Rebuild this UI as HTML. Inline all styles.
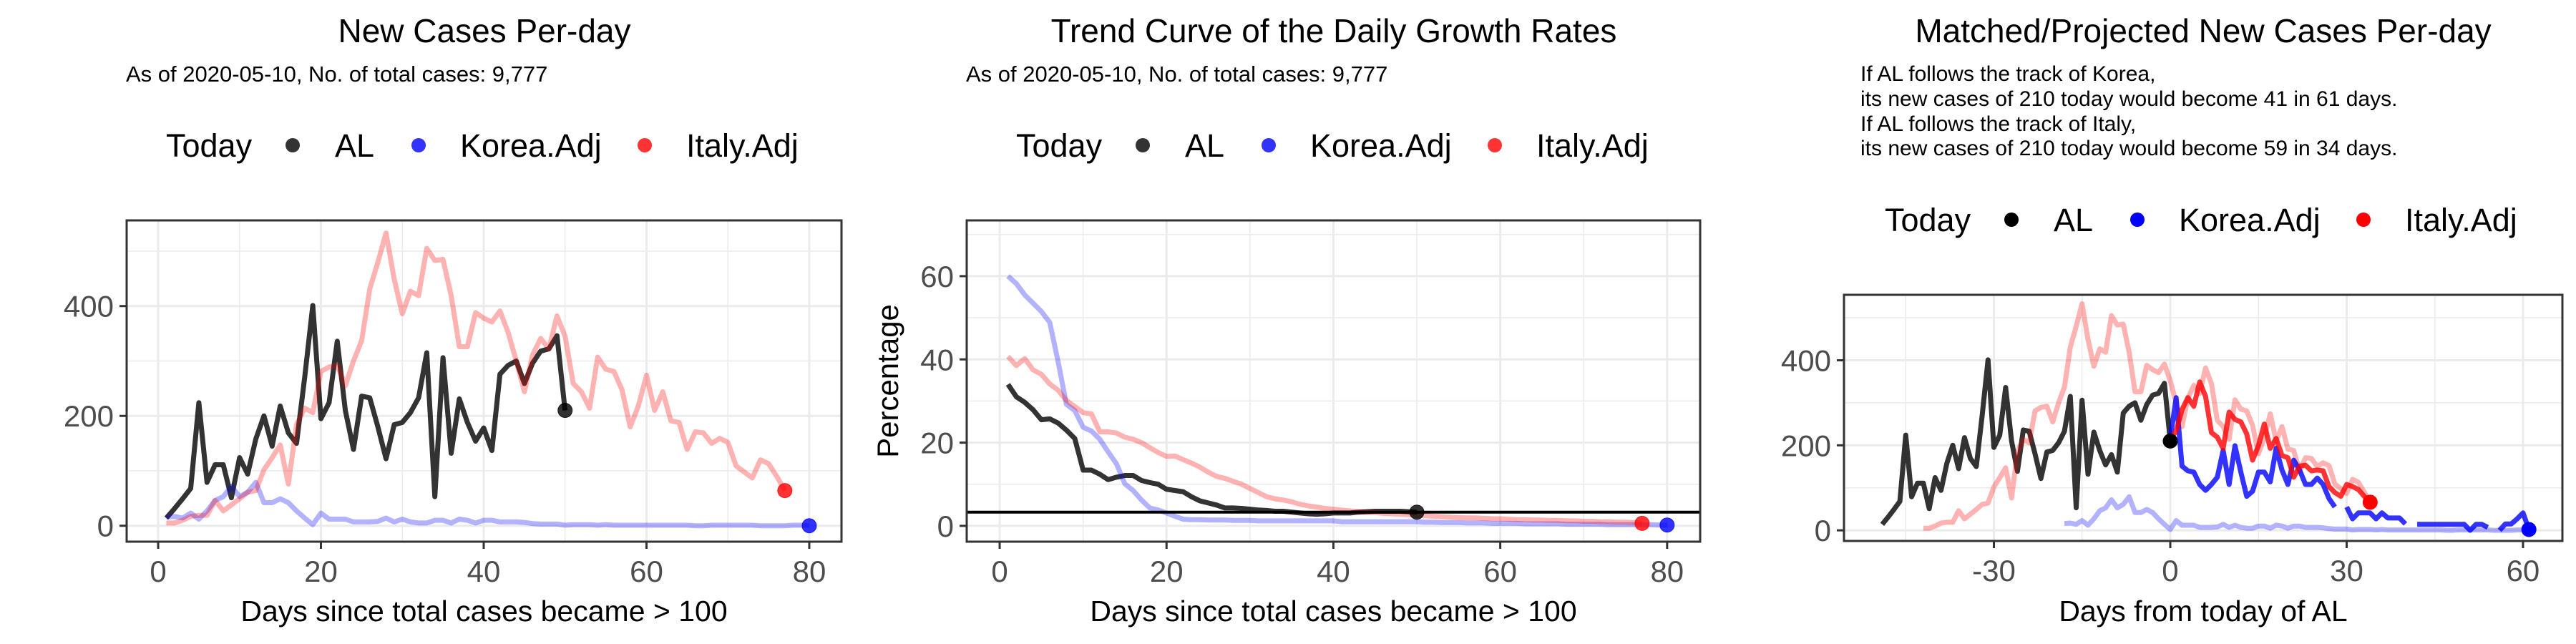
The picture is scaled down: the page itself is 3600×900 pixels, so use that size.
<!DOCTYPE html>
<html><head><meta charset="utf-8">
<style>
html,body{margin:0;padding:0;background:#fff;}
svg{display:block;font-family:"Liberation Sans",sans-serif;}
</style></head>
<body>
<svg id="chart" width="3600" height="900" viewBox="0 0 3600 900" xmlns="http://www.w3.org/2000/svg">
<rect x="0" y="0" width="3600" height="900" fill="#fff"/>
<g>
<text x="677" y="59" font-size="46" text-anchor="middle">New Cases Per-day</text>
<text x="176" y="114" font-size="31">As of 2020-05-10, No. of total cases: 9,777</text>
</g>
<g>
<text x="1864" y="59" font-size="46" text-anchor="middle">Trend Curve of the Daily Growth Rates</text>
<text x="1350" y="114" font-size="31">As of 2020-05-10, No. of total cases: 9,777</text>
</g>
<g>
<text x="3079" y="59" font-size="46" text-anchor="middle">Matched/Projected New Cases Per-day</text>
<text x="2600" y="113" font-size="30">If AL follows the track of Korea,</text>
<text x="2600" y="148" font-size="30">its new cases of 210 today would become 41 in 61 days.</text>
<text x="2600" y="183" font-size="30">If AL follows the track of Italy,</text>
<text x="2600" y="217" font-size="30">its new cases of 210 today would become 59 in 34 days.</text>
</g>
</svg>
<script>
// ---- data ----
const alCases = [14,31,49,68,224,79,111,111,51,124,94,158,200,145,218,169,150,270,401,195,224,336,210,139,236,233,180,122,184,188,206,233,315,53,306,132,231,188,154,178,137,276,292,300,259,296,318,322,346,210];
const koreaCases = [16,17,14,23,12,27,46,53,72,53,61,79,42,42,49,42,27,14,2,23,12,12,12,7,7,7,8,14,7,12,7,5,5,10,10,5,12,10,5,10,10,7,7,7,6,4,3,3,3,1,2,2,2,1,2,1,1,1,1,1,1,1,1,1,1,0,0,1,1,1,1,1,1,0,0,0,0,1,1,0];
const italyCases = [5,5,10,17,19,19,46,27,38,49,61,64,102,124,147,76,184,214,206,281,289,292,255,300,337,431,480,533,449,386,427,419,505,483,485,419,326,326,388,378,371,391,352,300,244,311,341,322,382,345,259,244,214,307,285,281,247,180,218,274,210,244,191,188,139,171,169,150,159,152,109,98,87,120,113,90,64];
const alRate = [34,31,29.7,27.9,25.5,25.7,24.7,23,21,13.4,13.4,12.4,11.1,11.7,12.1,12.1,10.9,10.4,10,8.8,8.5,8.2,7,6,5.5,5,4.3,4.3,4.2,4,3.8,3.7,3.5,3.5,3.3,3.1,2.9,2.8,2.9,3.1,3.1,3.1,3.3,3.4,3.5,3.5,3.5,3.5,3.4,3.3];
const koreaRate = [60,58.2,55.5,53.5,51.5,48.9,39.5,29.2,27.7,23.7,22.8,20.8,17.8,14.9,10.1,8.5,6.2,4.3,3.8,3.1,2.3,1.6,1.5,1.5,1.4,1.4,1.4,1.3,1.3,1.3,1.2,1.2,1.2,1.2,1.2,1.2,1.2,1.2,1.2,1.2,1,1,1,1,1,1,1,1,1,1,0.9,0.9,0.8,0.8,0.8,0.7,0.7,0.7,0.6,0.6,0.6,0.6,0.5,0.5,0.5,0.5,0.5,0.4,0.4,0.4,0.4,0.4,0.3,0.3,0.3,0.3,0.3,0.3,0.2,0.2];
const italyRate = [40.7,38.5,40.2,37.5,36.4,34.1,32.6,30.1,28.7,27.2,26.9,22.6,22.6,22.3,21.3,20.8,20,18.8,17.6,16.7,16.8,15.9,15.1,14.1,12.9,11.9,11.4,10.7,10,9,8,7,6.5,6.2,5.8,5.2,4.8,4.5,4.2,4,3.8,3.6,3.4,3.3,3.2,3.0,2.9,2.8,2.7,2.5,2.4,2.3,2.2,2.1,2.0,1.9,1.9,1.8,1.7,1.7,1.6,1.5,1.5,1.4,1.4,1.3,1.3,1.2,1.2,1.1,1.1,1.0,1.0,0.9,0.9,0.8,0.6];
const growthThreshold = 3.3;
const koreaProj = [216,312,151,140,137,108,94,108,125,188,108,199,137,80,92,137,137,114,193,142,108,165,142,108,108,123,108,75,55,null,55,27,41,41,41,27,41,29,29,29,15,null,14,14,14,14,14,14,14,14,14,0,14,14,7,null,0,15,15,27,41,2];
const italyProj = [216,233,284,312,292,349,315,230,219,193,278,261,255,227,165,199,250,193,216,176,171,125,151,153,140,142,140,103,89,80,108,103,96,80,66];
const alShift = -50, koreaShift = -19, italyShift = -43;
const p1XTicks = [0,20,40,60,80], p1YTicks = [0,200,400];
const p2XTicks = [0,20,40,60,80], p2YTicks = [0,20,40,60];
const p3XTicks = [-30,0,30,60], p3YTicks = [0,200,400];
const legendLabels = ['AL','Korea.Adj','Italy.Adj'];

const NS = 'http://www.w3.org/2000/svg';
const svg = document.getElementById('chart');
function mk(tag, attrs, parent){
  const e = document.createElementNS(NS, tag);
  for (const k in attrs) e.setAttribute(k, attrs[k]);
  (parent||svg).appendChild(e);
  return e;
}
function makePanel(cfg){
  const g = mk('g', {});
  
  
  const sx = v => cfg.x0 + (v - cfg.xmin) / (cfg.xmax - cfg.xmin) * (cfg.x1 - cfg.x0);
  const sy = v => cfg.y1 - (v - cfg.ymin) / (cfg.ymax - cfg.ymin) * (cfg.y1 - cfg.y0);
  const gg = mk('g', {}, g);
  
  
  cfg.xMinor.forEach(v => { const l = mk('line',{x1:sx(v),x2:sx(v),y1:cfg.y0,y2:cfg.y1,stroke:'#ebebeb','stroke-width':1.5},gg);   });
  cfg.yMinor.forEach(v => { const l = mk('line',{x1:cfg.x0,x2:cfg.x1,y1:sy(v),y2:sy(v),stroke:'#ebebeb','stroke-width':1.5},gg);   });
  cfg.xTicks.forEach(v => { const l = mk('line',{x1:sx(v),x2:sx(v),y1:cfg.y0,y2:cfg.y1,stroke:'#ebebeb','stroke-width':3},gg);   });
  cfg.yTicks.forEach(v => { const l = mk('line',{x1:cfg.x0,x2:cfg.x1,y1:sy(v),y2:sy(v),stroke:'#ebebeb','stroke-width':3},gg);   });
  cfg.series.forEach(s => {
    let d = '', pen = false;
    s.values.forEach((v, i) => {
      if (v === null) { pen = false; return; }
      d += (pen ? 'L' : 'M') + sx(i + s.start).toFixed(1) + ',' + sy(v).toFixed(1);
      pen = true;
    });
    const p = mk('path', {d:d, fill:'none', stroke:s.color, 'stroke-opacity':s.op, 'stroke-width':7, 'stroke-linejoin':'round'}, g);
    
    
  });
  if (cfg.hline !== undefined) {
    const h = mk('line',{x1:cfg.x0,x2:cfg.x1,y1:sy(cfg.hline),y2:sy(cfg.hline),stroke:'#000','stroke-width':4},g);
    
    
  }
  cfg.dots.forEach(dt => {
    const c = mk('circle',{cx:sx(dt.x),cy:sy(dt.y),r:10,fill:dt.color,'fill-opacity':dt.op,stroke:dt.color,'stroke-opacity':dt.op,'stroke-width':1},g);
    
    
  });
  const b = mk('rect',{x:cfg.x0,y:cfg.y0,width:cfg.x1-cfg.x0,height:cfg.y1-cfg.y0,fill:'none',stroke:'#333','stroke-width':3},g);
  
  
  cfg.xTicks.forEach(v => {
    const t = mk('line',{x1:sx(v),x2:sx(v),y1:cfg.y1,y2:cfg.y1+10,stroke:'#333','stroke-width':3},g);
    
    
    const tx = mk('text',{x:sx(v),y:cfg.y1+56,'font-size':42,fill:'#4d4d4d','text-anchor':'middle'},g);
    tx.textContent = String(v);
    
    
  });
  cfg.yTicks.forEach(v => {
    const t = mk('line',{x1:cfg.x0-10,x2:cfg.x0,y1:sy(v),y2:sy(v),stroke:'#333','stroke-width':3},g);
    
    
    const tx = mk('text',{x:cfg.x0-18,y:sy(v)+15,'font-size':42,fill:'#4d4d4d','text-anchor':'end'},g);
    tx.textContent = String(v);
    
    
  });
  const xt = mk('text',{x:(cfg.x0+cfg.x1)/2,y:868,'font-size':41,'text-anchor':'middle'},g);
  xt.textContent = cfg.xTitle;
  
  
  if (cfg.yTitle) {
    const yt = mk('text',{x:0,y:0,'font-size':42,'text-anchor':'middle',transform:'translate('+cfg.yTitleX+','+((cfg.y0+cfg.y1)/2)+') rotate(-90)'},g);
    yt.textContent = cfg.yTitle;
    
    
  }
  const lg = mk('g', {}, svg);
  
  
  const lx = cfg.legendX, ly = cfg.legendY;
  const lt = mk('text',{x:lx,y:ly+16,'font-size':45},lg);
  lt.textContent = 'Today';
  
  
  const colors = ['#000','#0000ff','#ff0000'];
  const dotOff = [177, 353, 669], labOff = [236, 411, 727];
  legendLabels.forEach((lab, i) => {
    const c = mk('circle',{cx:lx+dotOff[i],cy:ly,r:10,fill:colors[i],'fill-opacity':cfg.legendOp},lg);
    
    
    const t = mk('text',{x:lx+labOff[i],y:ly+16,'font-size':45},lg);
    t.textContent = lab;
    
    
  });
}

makePanel({name:'panel1-new-cases', x0:177,x1:1176,y0:308,y1:757, xmin:-3.87,xmax:83.96, ymin:-29,ymax:556,
  xTicks:p1XTicks, yTicks:p1YTicks, xMinor:[10,30,50,70], yMinor:[100,300,500],
  series:[
    {name:'al-line', values:alCases, start:1, color:'#000', op:0.8},
    {name:'korea-adj-line', values:koreaCases, start:1, color:'#0000ff', op:0.3},
    {name:'italy-adj-line', values:italyCases, start:1, color:'#ff0000', op:0.3}
  ],
  dots:[
    {name:'al-today-dot', x:alCases.length, y:alCases[alCases.length-1], color:'#000', op:0.8},
    {name:'korea-today-dot', x:koreaCases.length, y:koreaCases[koreaCases.length-1], color:'#0000ff', op:0.8},
    {name:'italy-today-dot', x:italyCases.length, y:italyCases[italyCases.length-1], color:'#ff0000', op:0.8}
  ],
  xTitle:'Days since total cases became > 100', legendX:232, legendY:203, legendOp:0.8});

makePanel({name:'panel2-growth-rates', x0:1351,x1:2376,y0:308,y1:757, xmin:-3.95,xmax:83.96, ymin:-3.8,ymax:73.4,
  xTicks:p2XTicks, yTicks:p2YTicks, xMinor:[10,30,50,70], yMinor:[10,30,50,70],
  series:[
    {name:'al-rate-line', values:alRate, start:1, color:'#000', op:0.8},
    {name:'korea-adj-rate-line', values:koreaRate, start:1, color:'#0000ff', op:0.3},
    {name:'italy-adj-rate-line', values:italyRate, start:1, color:'#ff0000', op:0.3}
  ],
  hline:growthThreshold,
  dots:[
    {name:'al-rate-today-dot', x:alRate.length, y:alRate[alRate.length-1], color:'#000', op:0.8},
    {name:'korea-rate-today-dot', x:koreaRate.length, y:koreaRate[koreaRate.length-1], color:'#0000ff', op:0.8},
    {name:'italy-rate-today-dot', x:italyRate.length, y:italyRate[italyRate.length-1], color:'#ff0000', op:0.8}
  ],
  xTitle:'Days since total cases became > 100', yTitle:'Percentage', yTitleX:1255, legendX:1420, legendY:203, legendOp:0.8});

makePanel({name:'panel3-projection', x0:2577,x1:3581,y0:412,y1:756, xmin:-55.5,xmax:66.7, ymin:-25,ymax:554,
  xTicks:p3XTicks, yTicks:p3YTicks, xMinor:[-45,-15,15,45], yMinor:[100,300,500],
  series:[
    {name:'al-matched-line', values:alCases, start:1+alShift, color:'#000', op:0.8},
    {name:'korea-matched-line', values:koreaCases, start:1+koreaShift, color:'#0000ff', op:0.3},
    {name:'italy-matched-line', values:italyCases, start:1+italyShift, color:'#ff0000', op:0.3},
    {name:'korea-projection-line', values:koreaProj, start:0, color:'#0000ff', op:0.8},
    {name:'italy-projection-line', values:italyProj, start:0, color:'#ff0000', op:0.8}
  ],
  dots:[
    {name:'al-today-dot', x:0, y:alCases[alCases.length-1], color:'#000', op:1},
    {name:'korea-projection-end-dot', x:koreaProj.length-1, y:koreaProj[koreaProj.length-1], color:'#0000ff', op:1},
    {name:'italy-projection-end-dot', x:italyProj.length-1, y:italyProj[italyProj.length-1], color:'#ff0000', op:1}
  ],
  xTitle:'Days from today of AL', legendX:2634, legendY:307, legendOp:1});
</script>
</body></html>
